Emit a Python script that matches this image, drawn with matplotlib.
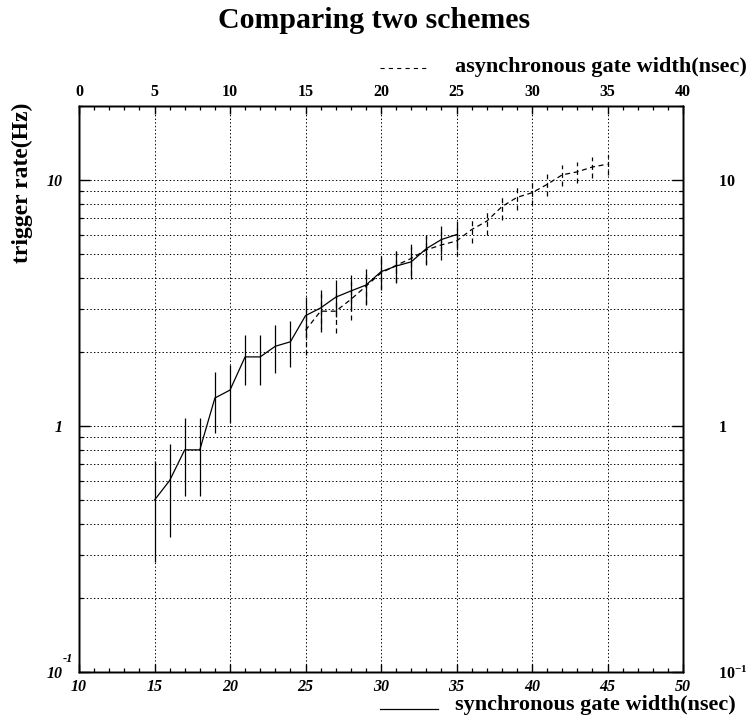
import matplotlib
matplotlib.use('Agg')
import matplotlib.pyplot as plt
from matplotlib.lines import Line2D
from matplotlib.ticker import MultipleLocator, LogLocator, NullFormatter, FixedLocator
import numpy as np

# synchronous scheme (bottom axis, nsec)
sync_width = list(range(15, 36))
sync_rate = [0.50, 0.60, 0.80, 0.80, 1.30, 1.40, 1.91, 1.91, 2.11, 2.20, 2.81,
             3.02, 3.34, 3.54, 3.74, 4.24, 4.47, 4.65, 5.26, 5.73, 6.00]
sync_err = [0.22, 0.245, 0.28, 0.28, 0.36, 0.37, 0.44, 0.44, 0.46, 0.47, 0.53,
            0.55, 0.57, 0.59, 0.62, 0.65, 0.67, 0.70, 0.70, 0.77, 0.81]

# asynchronous scheme (top axis, nsec)
async_width = list(range(15, 36))
async_rate = [2.45, 2.93, 2.93, 3.27, 3.70, 4.19, 4.50, 4.80, 5.20, 5.45, 5.65,
              6.29, 6.80, 7.79, 8.50, 8.88, 9.60, 10.5, 10.8, 11.3, 11.6]
async_err = [0.50, 0.52, 0.54, 0.57, 0.60, 0.62, 0.65, 0.67, 0.70, 0.72, 0.74,
             0.75, 0.80, 0.88, 0.92, 0.95, 1.00, 1.02, 1.04, 1.06, 1.08]

y_ticks = [0.1, 1, 10]
y_left_labels = ['10', '1', '10']
y_right_labels = [r'$\mathrm{10^{-1}}$', r'$\mathrm{1}$', r'$\mathrm{10}$']

plt.rcParams['font.family'] = 'Liberation Serif'
plt.rcParams['font.weight'] = 'bold'
plt.rcParams['mathtext.fontset'] = 'custom'
plt.rcParams['mathtext.rm'] = 'Liberation Serif:bold'
plt.rcParams['mathtext.bf'] = 'Liberation Serif:bold'
plt.rcParams['lines.scale_dashes'] = False

fig = plt.figure(figsize=(7.49, 7.15), dpi=100)
ax = fig.add_axes([79/749, 1-672/715, 604/749, 566/715])
ax.set_yscale('log')
ax.set_xlim(10, 50)
ax.set_ylim(0.1, 20)

dots = (0, (1, 1.6))
ax.grid(which='both', axis='y', linestyle=dots, color='black', lw=0.7)
ax.grid(which='major', axis='x', linestyle=dots, color='black', lw=0.7)

ax.xaxis.set_major_locator(MultipleLocator(5))
ax.xaxis.set_minor_locator(MultipleLocator(1))
ax.yaxis.set_major_locator(FixedLocator(y_ticks))
ax.yaxis.set_minor_locator(LogLocator(base=10, subs=np.arange(2, 10)))
ax.yaxis.set_minor_formatter(NullFormatter())
ax.set_yticks(y_ticks, labels=y_left_labels)
ax.tick_params(which='major', direction='in', length=6, width=1.0,
               labelsize=11.5, top=False, right=False)
ax.tick_params(which='minor', direction='in', length=3, width=0.9,
               top=False, right=False)
ax.tick_params(axis='x', pad=5)
ax.tick_params(axis='y', which='major', pad=12, length=8)
for lab in ax.get_xticklabels() + ax.get_yticklabels():
    lab.set_fontstyle('italic')
# exponent of the lowest decade label
ax.annotate('-1', xy=(0, 0.1), xycoords=ax.get_yaxis_transform(),
            xytext=(-4, 5), textcoords='offset points', ha='right',
            va='bottom', fontsize=9, fontstyle='italic')

ax.errorbar(sync_width, sync_rate, yerr=sync_err, color='black', lw=0.9,
            elinewidth=0.9, capsize=0)

# right-hand labels
ax_r = ax.twinx()
ax_r.set_yscale('log')
ax_r.set_ylim(0.1, 20)
ax_r.yaxis.set_minor_locator(LogLocator(base=10, subs=np.arange(2, 10)))
ax_r.yaxis.set_minor_formatter(NullFormatter())
ax_r.set_yticks(y_ticks, labels=y_right_labels)
ax_r.tick_params(which='major', direction='in', length=8, width=1.0,
                 labelsize=11.5, pad=25)
ax_r.tick_params(which='minor', direction='in', length=3, width=0.9)

# top axis for the asynchronous gate width
ax_t = ax.twiny()
ax_t.set_xlim(0, 40)
ax_t.xaxis.set_major_locator(MultipleLocator(5))
ax_t.xaxis.set_minor_locator(MultipleLocator(1))
ax_t.tick_params(which='major', direction='in', length=6, width=1.0,
                 labelsize=11.5, pad=4)
ax_t.tick_params(which='minor', direction='in', length=3, width=0.9)

dash = (0, (3.6, 2.6))
eb = ax_t.errorbar(async_width, async_rate, yerr=async_err, color='black',
                   lw=0.9, elinewidth=0.9, capsize=0, ls=dash)
eb.lines[2][0].set_linestyle(dash)

for a in (ax, ax_r, ax_t):
    for s in a.spines.values():
        s.set_linewidth(1.0)

fig.text(0.5, 1-20/715, 'Comparing two schemes', ha='center', va='center',
         fontsize=21.5)
fig.text(22/749, 1-183/715, 'trigger rate(Hz)', rotation=90, ha='center',
         va='center', fontsize=17)

fig.add_artist(Line2D([380/749, 427/749], [1-68/715]*2, transform=fig.transFigure,
                      color='black', lw=0.8, ls=(0, (3, 3))))
fig.text(455/749, 1-67/715, 'asynchronous gate width(nsec)', ha='left',
         va='center', fontsize=16)
fig.add_artist(Line2D([380/749, 438/749], [1-709/715]*2, transform=fig.transFigure,
                      color='black', lw=0.9))
fig.text(455/749, 1-705/715, 'synchronous gate width(nsec)', ha='left',
         va='center', fontsize=16)

fig.savefig('out.png', dpi=100)
